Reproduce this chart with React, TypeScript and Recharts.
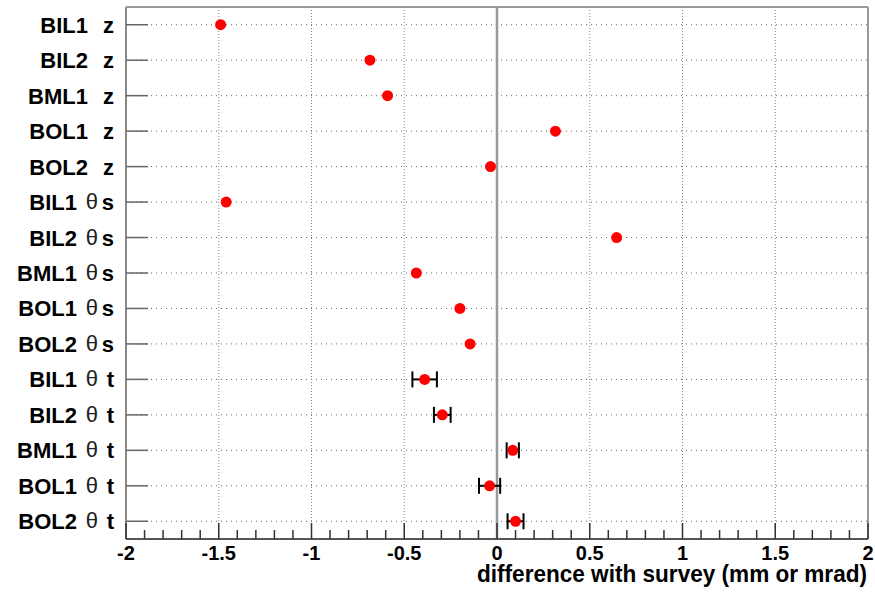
import React from 'react';
import { ScatterChart, Scatter, XAxis, YAxis, ErrorBar, ReferenceLine, Label } from 'recharts';

// one row per chamber / parameter, top to bottom
const categories = [
  'BIL1 z', 'BIL2 z', 'BML1 z', 'BOL1 z', 'BOL2 z',
  'BIL1 θs', 'BIL2 θs', 'BML1 θs', 'BOL1 θs', 'BOL2 θs',
  'BIL1 θt', 'BIL2 θt', 'BML1 θt', 'BOL1 θt', 'BOL2 θt',
];
const values = [
  -1.49, -0.685, -0.59, 0.315, -0.035,
  -1.46, 0.645, -0.435, -0.2, -0.145,
  -0.39, -0.295, 0.085, -0.04, 0.1,
];
const errors: (number | null)[] = [
  null, null, null, null, null,
  null, null, null, null, null,
  0.066, 0.045, 0.033, 0.057, 0.043,
];
const majorTicks = [-2, -1.5, -1, -0.5, 0, 0.5, 1, 1.5, 2];
const gridX = [-1.5, -1, -0.5, 0.5, 1, 1.5];

// minor ticks every 0.1 along the bottom axis
const allTicks = Array.from({ length: 41 }, (_, i) => Math.round((-2 + i * 0.1) * 10) / 10);
const rowIdx = categories.map((_, i) => i);

const rows = categories.map((c, i) => ({ idx: i, value: values[i], err: errors[i] }));
const plainRows = rows.filter((r) => r.err == null);
const errRows = rows.filter((r) => r.err != null);

const FONT = '"Liberation Sans", Arial, Helvetica, sans-serif';

const isMajor = (v: number) => majorTicks.some((m) => Math.abs(m - v) < 1e-6);

const XTick = (props: any) => {
  const { x, y, payload } = props;
  const v = payload.value;
  const major = isMajor(v);
  return (
    <g>
      <line x1={x} x2={x} y1={y} y2={y - (major ? 16 : 9)} stroke="#333" strokeWidth={1.5} />
      {major && (
        <text x={x} y={y + 21} textAnchor="middle" fontSize={20} fontWeight="bold" fontFamily={FONT} fill="#000">
          {v}
        </text>
      )}
    </g>
  );
};

const YTick = (props: any) => {
  const { x, y, payload } = props;
  const [det, par] = categories[payload.value].split(' ');
  const theta = par.startsWith('θ');
  const letter = theta ? par.slice(1) : par;
  return (
    <g fontFamily={FONT} fill="#000">
      <line x1={x} x2={x + 22} y1={y} y2={y} stroke="#666" strokeWidth={1.5} />
      <text x={x - (theta ? 49 : 38)} y={y + 8} textAnchor="end" fontSize={22} fontWeight="bold">
        {det}
      </text>
      {theta && (
        <text x={x - 28} y={y + 7} textAnchor="end" fontSize={22} fill="#222">
          θ
        </text>
      )}
      <text x={x - 12} y={y + 8} textAnchor="end" fontSize={22} fontWeight="bold">
        {letter}
      </text>
    </g>
  );
};

const Dot = (p: any) => <circle cx={p.cx} cy={p.cy} r={5.5} fill="#ff0000" />;

const renderTitle = (p: any) => {
  const vb = p.viewBox;
  return (
    <text
      x={vb.x + vb.width - 391}
      y={vb.y + 43}
      fontSize={24}
      fontWeight="bold"
      fontFamily={FONT}
      fill="#000"
      textLength={390}
      lengthAdjust="spacingAndGlyphs"
    >
      difference with survey (mm or mrad)
    </text>
  );
};

export default function App() {
  return (
    <div style={{ position: 'absolute', left: 0, top: 0, background: '#fff' }}>
      <ScatterChart width={875} height={592} margin={{ top: 7, right: 7, bottom: 0, left: 0 }}>
        <XAxis
          type="number"
          dataKey="value"
          domain={[-2, 2]}
          ticks={allTicks}
          interval={0}
          allowDataOverflow
          height={53}
          tickSize={0}
          tickMargin={0}
          tickLine={false}
          axisLine={false}
          tick={(p: any) => <XTick {...p} />}
        >
          <Label content={renderTitle} />
        </XAxis>
        <YAxis
          type="number"
          dataKey="idx"
          domain={[-0.5, 14.5]}
          reversed
          ticks={rowIdx}
          interval={0}
          allowDataOverflow
          width={126}
          tickSize={0}
          tickMargin={0}
          tickLine={false}
          axisLine={false}
          tick={(p: any) => <YTick {...p} />}
        />
        {gridX.map((v) => (
          <ReferenceLine key={'gx' + v} x={v} stroke="#888" strokeDasharray="1 2" />
        ))}
        {rowIdx.map((i) => (
          <ReferenceLine key={'gy' + i} y={i} stroke="#666" strokeDasharray="1 4" />
        ))}
        <ReferenceLine x={0} stroke="#999" strokeWidth={2.5} />
        <ReferenceLine x={-2} stroke="#888" strokeWidth={2} />
        <ReferenceLine x={2} stroke="#999" strokeWidth={2} />
        <ReferenceLine y={-0.5} stroke="#999" strokeWidth={2} />
        <ReferenceLine y={14.5} stroke="#555" strokeWidth={2} />
        <Scatter data={plainRows} dataKey="value" shape={Dot} isAnimationActive={false} />
        <Scatter data={errRows} dataKey="value" shape={Dot} isAnimationActive={false}>
          <ErrorBar dataKey="err" direction="x" width={8} stroke="#000" strokeWidth={2} isAnimationActive={false} />
        </Scatter>
      </ScatterChart>
    </div>
  );
}
